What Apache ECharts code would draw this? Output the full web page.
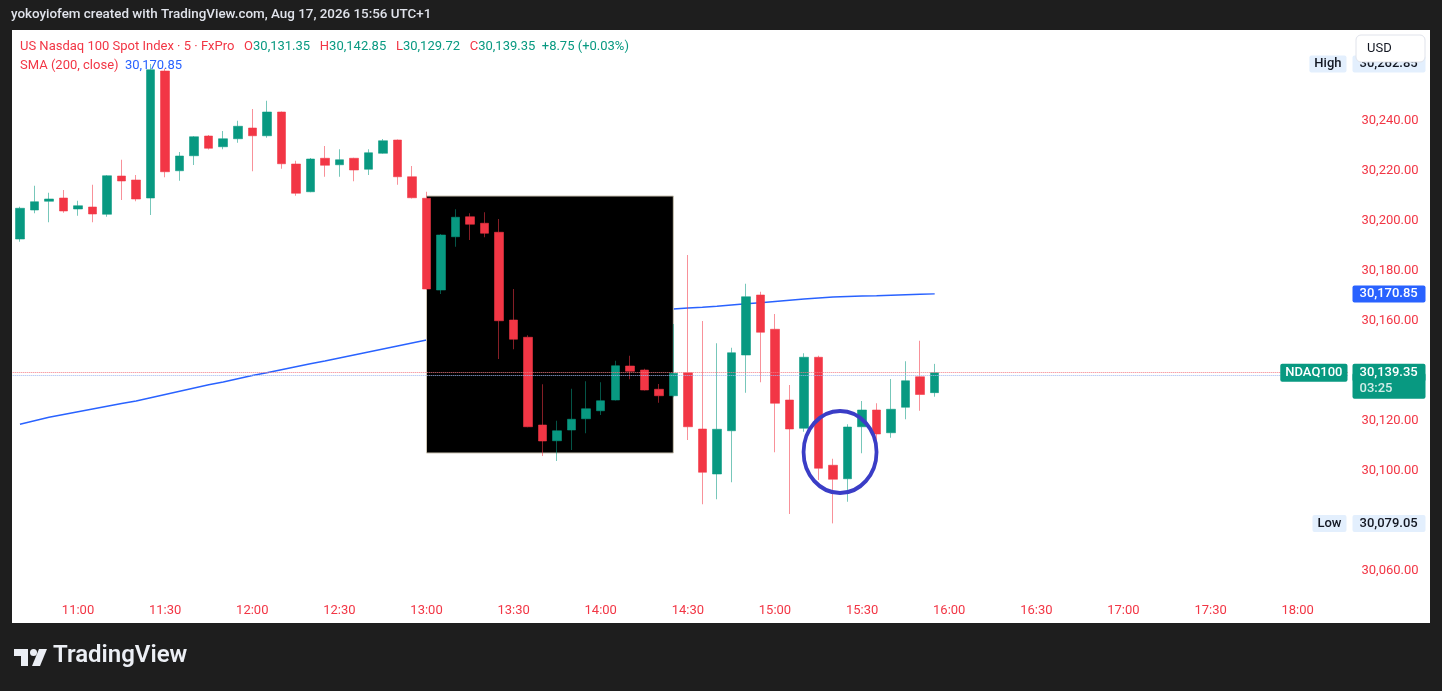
<!DOCTYPE html>
<html>
<head>
<meta charset="utf-8">
<title>US Nasdaq 100 Spot Index · 5 · FxPro</title>
<script src="https://cdn.jsdelivr.net/npm/echarts/dist/echarts.min.js"></script>
<style>
  html, body { margin: 0; padding: 0; background: #1e1e1e; }
  #chart { width: 1442px; height: 691px; }
</style>
</head>
<body>
<div id="chart"></div>
<script>
// 5 minute bars, 10:40 -> 15:55
var opens = [30192.8, 30204.4, 30207.9, 30209.2, 30204.8, 30205.6, 30202.7, 30218.0, 30216.4, 30209.2,
  30260.0, 30220.1, 30226.1, 30234.0, 30229.7, 30232.9, 30237.2, 30234.1, 30243.6, 30222.8,
  30211.7, 30225.1, 30222.5, 30225.1, 30220.7, 30227.1, 30232.4, 30217.7, 30209.1, 30172.4,
  30193.7, 30201.7, 30199.1, 30195.5, 30160.4, 30153.5, 30118.4, 30112.1, 30116.4, 30120.9,
  30124.1, 30128.4, 30142.0, 30140.4, 30132.7, 30130.1, 30139.3, 30116.8, 30098.8, 30116.1,
  30146.4, 30170.4, 30156.7, 30128.4, 30117.1, 30145.5, 30102.3, 30096.9, 30117.7, 30124.4,
  30115.3, 30125.5, 30137.7, 30131.35];
var highs = [30205.7, 30214.1, 30211.3, 30212.4, 30208.1, 30214.5, 30218.4, 30224.5, 30218.4, 30262.8,
  30261.0, 30227.6, 30234.0, 30234.4, 30236.0, 30240.1, 30244.8, 30248.1, 30243.8, 30224.1,
  30225.2, 30230.0, 30228.7, 30225.3, 30228.7, 30232.8, 30232.6, 30222.0, 30211.7, 30194.8,
  30204.7, 30203.1, 30203.5, 30200.8, 30172.8, 30154.3, 30134.7, 30120.1, 30132.9, 30135.9,
  30135.5, 30144.1, 30146.1, 30140.9, 30134.8, 30158.8, 30186.4, 30160.0, 30151.1, 30149.3,
  30174.9, 30171.7, 30162.8, 30134.4, 30147.1, 30146.1, 30104.9, 30118.7, 30128.0, 30127.1,
  30136.8, 30143.9, 30152.1, 30142.85];
var lows = [30191.7, 30203.1, 30199.5, 30203.3, 30202.1, 30199.5, 30201.7, 30208.4, 30207.9, 30202.4,
  30217.5, 30216.1, 30222.4, 30228.6, 30228.7, 30231.3, 30219.9, 30233.3, 30220.9, 30210.1,
  30211.5, 30217.7, 30217.7, 30215.9, 30218.4, 30226.9, 30214.5, 30209.0, 30172.5, 30170.8,
  30189.7, 30192.4, 30193.5, 30144.8, 30148.7, 30117.5, 30106.0, 30104.0, 30108.4, 30115.1,
  30122.4, 30128.2, 30136.7, 30132.2, 30127.3, 30129.5, 30112.4, 30086.7, 30088.7, 30095.5,
  30131.3, 30135.5, 30107.5, 30082.8, 30115.7, 30096.4, 30079.05, 30087.7, 30107.1, 30111.7,
  30113.3, 30120.7, 30124.1, 30129.72];
var closes = [30205.1, 30207.7, 30208.8, 30204.0, 30206.1, 30202.8, 30218.1, 30216.0, 30208.8, 30260.5,
  30219.7, 30226.0, 30233.7, 30229.1, 30232.9, 30237.9, 30234.1, 30243.6, 30222.9, 30211.1,
  30224.8, 30222.3, 30224.5, 30220.4, 30227.3, 30232.1, 30217.7, 30209.3, 30172.8, 30194.4,
  30201.5, 30198.7, 30195.1, 30160.1, 30152.7, 30117.7, 30112.0, 30116.1, 30120.7, 30124.9,
  30128.1, 30142.1, 30139.9, 30132.4, 30130.1, 30139.1, 30117.7, 30099.5, 30116.7, 30147.3,
  30169.7, 30155.5, 30127.1, 30116.8, 30145.5, 30101.1, 30096.7, 30117.6, 30124.4, 30114.8,
  30124.7, 30136.1, 30130.6, 30139.35];
// SMA(200, close)
var smaValues = [30118.7, 30120.1, 30121.5, 30122.6, 30123.7, 30124.8, 30125.9, 30127.0, 30128.0, 30129.3,
  30130.6, 30131.9, 30133.2, 30134.5, 30135.6, 30136.9, 30138.2, 30139.3, 30140.5, 30141.7,
  30142.9, 30144.0, 30145.2, 30146.4, 30147.6, 30148.8, 30150.0, 30151.2, 30152.4, 30153.1,
  30153.9, 30154.6, 30155.4, 30156.1, 30156.9, 30157.6, 30158.3, 30159.0, 30159.8, 30160.5,
  30161.2, 30161.9, 30162.6, 30163.3, 30164.0, 30164.8, 30165.2, 30165.5, 30165.9, 30166.4,
  30166.9, 30167.3, 30167.8, 30168.3, 30168.8, 30169.2, 30169.6, 30169.8, 30170.0, 30170.1,
  30170.3, 30170.5, 30170.7, 30170.85];

var sessionHigh = 30262.85;
var sessionLow = 30079.05;
var prevCloseLine = 30138.3;
var countdown = '03:25';
var redactBox = [['13:00', 30210], ['14:25', 30107.2]];
var markedBar = ['15:20', 30107.6];

// time axis 10:40 .. 18:15, every 5 minutes
var times = [];
for (var m = 10 * 60 + 40; m <= 18 * 60 + 15; m += 5) {
  times.push(Math.floor(m / 60) + ':' + ('0' + (m % 60)).slice(-2));
}

var UP = '#089981', DOWN = '#f23645', BLUE = '#2962ff';
var FONT = 'Roboto, "Noto Sans", sans-serif';
var NOLINE = { color: 'rgba(0,0,0,0)', width: 0 };

function fmt(v) {
  return v.toLocaleString('en-US', { minimumFractionDigits: 2, maximumFractionDigits: 2 });
}

var ohlc = opens.map(function (o, i) { return [o, closes[i], lows[i], highs[i]]; });
var n = closes.length;
var lastClose = closes[n - 1];
var change = lastClose - closes[n - 2];
var smaLast = smaValues[n - 1];
var tagValues = [sessionHigh, sessionLow, lastClose];

function tag(bg, fg, extra) {
  var t = { show: true, backgroundColor: bg, color: fg, fontSize: 13, fontWeight: 500, fontFamily: FONT,
    lineHeight: 14, borderRadius: 2, opacity: 1 };
  for (var k in extra) t[k] = extra[k];
  return t;
}

var myChart = echarts.init(document.getElementById('chart'));
myChart.setOption({
  animation: false,
  backgroundColor: '#1e1e1e',
  textStyle: { fontFamily: FONT },
  title: [
    {
      text: 'yokoyiofem created with TradingView.com, Aug 17, 2026 15:56 UTC+1',
      left: 11, top: 8, padding: 0,
      textStyle: { color: '#e0e3eb', fontSize: 13.4, fontWeight: 500, fontFamily: FONT }
    },
    {
      text: '{r|US Nasdaq 100 Spot Index · 5 · FxPro}   {r|O}{g|' + fmt(opens[n - 1]) + '}   {r|H}{g|' + fmt(highs[n - 1]) +
        '}   {r|L}{g|' + fmt(lows[n - 1]) + '}   {r|C}{g|' + fmt(lastClose) + '  +' + change.toFixed(2) +
        ' (+' + (change / closes[n - 2] * 100).toFixed(2) + '%)}',
      left: 20, top: 40, padding: 0,
      textStyle: { fontSize: 13, fontWeight: 'normal', rich: { r: { color: DOWN, fontSize: 13 }, g: { color: UP, fontSize: 13 } } }
    },
    {
      text: '{r|SMA (200, close)}  {b|' + fmt(smaLast) + '}',
      left: 20, top: 59, padding: 0,
      textStyle: { fontSize: 13, fontWeight: 'normal', rich: { r: { color: DOWN, fontSize: 13 }, b: { color: BLUE, fontSize: 13 } } }
    },
    {
      text: 'TradingView',
      left: 53, top: 644, padding: 0,
      textStyle: { color: '#eceff5', fontSize: 24, fontWeight: 600, fontFamily: FONT }
    }
  ],
  graphic: [
    { type: 'rect', z: -10, silent: true, shape: { x: 12, y: 30, width: 1418, height: 593 }, style: { fill: '#ffffff' } },
    { type: 'polygon', z: 10, silent: true, shape: { points: [[14, 649], [28, 649], [28, 666], [21, 666], [21, 656], [14, 656]] }, style: { fill: '#eceff5' } },
    { type: 'circle', z: 10, silent: true, shape: { cx: 33.5, cy: 652.5, r: 3.5 }, style: { fill: '#eceff5' } },
    { type: 'polygon', z: 10, silent: true, shape: { points: [[39, 649], [47, 649], [40, 666], [32, 666]] }, style: { fill: '#eceff5' } },
    {
      type: 'group', z: 100, silent: true, children: [
        { type: 'rect', z: 100, shape: { x: 1356, y: 35, width: 69, height: 27, r: 5 }, style: { fill: '#ffffff', stroke: '#e0e3eb', lineWidth: 1 } },
        { type: 'text', z: 101, style: { x: 1367, y: 48.5, text: 'USD', fill: '#131722', fontSize: 13, fontFamily: FONT, verticalAlign: 'middle' } }
      ]
    }
  ],
  grid: { left: 12.7, right: 93.5, top: 21, bottom: 70, outerBoundsMode: 'none' },
  xAxis: {
    type: 'category',
    data: times,
    boundaryGap: true,
    axisLine: { show: false },
    axisTick: { show: false },
    splitLine: { show: false },
    axisLabel: {
      inside: true,
      margin: 4,
      color: DOWN,
      fontSize: 13,
      interval: function (index, value) { return /:(00|30)$/.test(value); }
    }
  },
  yAxis: {
    type: 'value',
    position: 'right',
    min: 30040,
    max: 30280,
    interval: 20,
    axisLine: { show: false },
    axisTick: { show: false },
    splitLine: { show: false },
    axisLabel: {
      color: DOWN,
      fontSize: 13,
      margin: 13,
      showMinLabel: false,
      showMaxLabel: false,
      formatter: function (v) {
        // labels hidden behind the price tags
        for (var i = 0; i < tagValues.length; i++) {
          if (Math.abs(tagValues[i] - v) < 5) return '';
        }
        return fmt(v);
      }
    }
  },
  series: [
    {
      name: 'SMA (200, close)',
      type: 'line',
      z: 0,
      data: smaValues,
      showSymbol: false,
      lineStyle: { color: BLUE, width: 1.3 },
      markLine: {
        silent: true,
        symbol: ['none', 'none'],
        data: [
          { yAxis: smaLast, lineStyle: NOLINE, label: tag(BLUE, '#ffffff', { position: 'end', distance: 4, width: 58, padding: [2, 8, 1, 7], formatter: fmt(smaLast) }) }
        ]
      }
    },
    {
      name: 'NDAQ100',
      type: 'candlestick',
      z: 3,
      data: ohlc,
      barWidth: 9,
      itemStyle: {
        color: UP,
        color0: DOWN,
        borderColor: 'rgba(8,153,129,0.55)',
        borderColor0: 'rgba(242,54,69,0.55)',
        borderWidth: 1
      },
      markArea: {
        silent: true,
        itemStyle: { color: '#000000', opacity: 1, borderColor: '#cbc4b4', borderWidth: 1 },
        data: [[{ coord: redactBox[0] }, { coord: redactBox[1] }]]
      },
      markPoint: {
        silent: true,
        label: { show: false },
        data: [{
          coord: markedBar,
          symbol: 'circle',
          symbolSize: [73, 82],
          symbolOffset: [7, 0],
          itemStyle: { color: 'rgba(0,0,0,0)', borderColor: '#3a3dc6', borderWidth: 4 }
        }]
      },
      markLine: {
        silent: true,
        symbol: ['none', 'none'],
        data: [
          { yAxis: prevCloseLine, lineStyle: { color: '#9fb8f2', type: 'dotted', width: 1 }, label: { show: false } },
          { yAxis: lastClose, lineStyle: { color: '#f47a84', type: 'dotted', width: 1 }, label: { show: false } },
          { yAxis: lastClose, lineStyle: NOLINE, label: tag(UP, 'rgba(255,255,255,0.82)', { position: 'end', distance: 4, width: 58, verticalAlign: 'top', padding: [9, 8, 3, 7], formatter: countdown }) },
          { yAxis: lastClose, lineStyle: NOLINE, label: tag(UP, '#ffffff', { position: 'end', distance: 4, width: 58, padding: [2, 8, 2, 7], formatter: fmt(lastClose) }) },
          { yAxis: lastClose, lineStyle: NOLINE, label: tag(UP, '#ffffff', { position: 'insideEnd', distance: 1, padding: [2, 5, 2, 5], formatter: 'NDAQ100' }) },
          { yAxis: sessionHigh, lineStyle: NOLINE, label: tag('#e3effd', '#131722', { position: 'insideEnd', distance: 2, padding: [2, 5, 1, 5], formatter: 'High' }) },
          { yAxis: sessionHigh, lineStyle: NOLINE, label: tag('#e3effd', '#131722', { position: 'end', distance: 4, width: 58, padding: [2, 8, 1, 7], formatter: fmt(sessionHigh) }) },
          { yAxis: sessionLow, lineStyle: NOLINE, label: tag('#e3effd', '#131722', { position: 'insideEnd', distance: 2, padding: [2, 5, 1, 5], formatter: 'Low' }) },
          { yAxis: sessionLow, lineStyle: NOLINE, label: tag('#e3effd', '#131722', { position: 'end', distance: 4, width: 58, padding: [2, 8, 1, 7], formatter: fmt(sessionLow) }) }
        ]
      }
    }
  ]
});
</script>
</body>
</html>
